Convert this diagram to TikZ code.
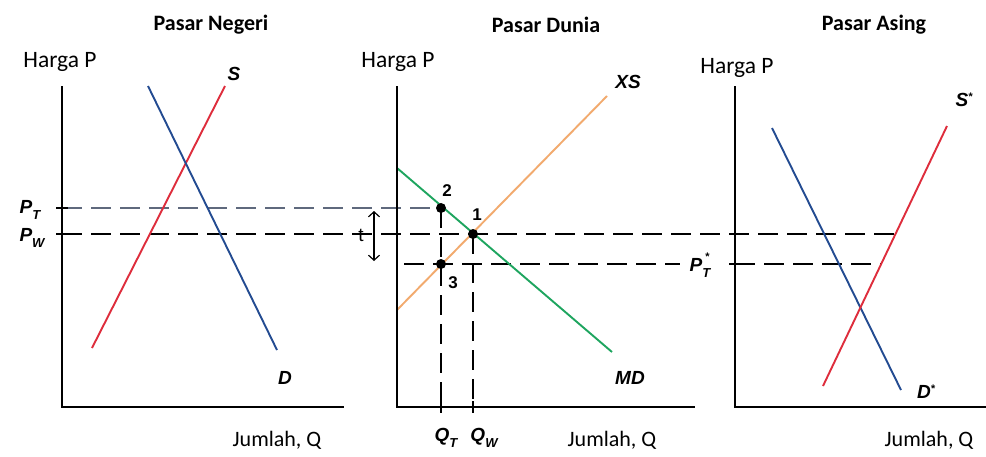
\documentclass[tikz,border=0pt]{standalone}
\usepackage{fontspec}
\setmainfont{Carlito}
\newfontfamily\lblfont{Liberation Sans}
\usetikzlibrary{arrows.meta}
\definecolor{sred}{RGB}{222,45,60}
\definecolor{dblue}{RGB}{35,75,145}
\definecolor{mdgreen}{RGB}{30,165,95}
\definecolor{xsorange}{RGB}{242,170,110}
\definecolor{ptgray}{RGB}{95,105,125}
\begin{document}
\begin{tikzpicture}[x=1pt,y=-1pt,
  axis/.style={line width=2pt,black},
  curve/.style={line width=1.9pt},
  guide/.style={line width=1.6pt,dash pattern=on 20pt off 9pt},
  title/.style={font=\bfseries\fontsize{22}{25}\selectfont},
  axlbl/.style={font=\fontsize{22}{25}\selectfont},
  clbl/.style={font=\lblfont\bfseries\itshape\fontsize{19}{21}\selectfont},
  nlbl/.style={font=\lblfont\bfseries\fontsize{17}{19}\selectfont},
  dot/.style={circle,fill=black,inner sep=0pt,minimum size=10pt}]
\fill[white] (0,0) rectangle (986,456);
\useasboundingbox (0,0) rectangle (986,456);
% titles
\node[title] (t1) at (211,25) {Pasar Negeri};
\node[title] (t2) at (546,25) {Pasar Dunia};
\node[title] (t3) at (874,25) {Pasar Asing};
% axis labels
\node[axlbl,font=\fontsize{23.5}{26}\selectfont] (h1) at (60,62) {Harga P};
\node[axlbl,font=\fontsize{23.5}{26}\selectfont] (h2) at (398,62) {Harga P};
\node[axlbl,font=\fontsize{23.5}{26}\selectfont] (h3) at (737,68) {Harga P};
\node[axlbl] (j1) at (277,440) {Jumlah, Q};
\node[axlbl] (j2) at (612,440) {Jumlah, Q};
\node[axlbl] (j3) at (929,440) {Jumlah, Q};
% axes coordinates
\coordinate (a1t) at (62,86); \coordinate (a1o) at (62,407); \coordinate (a1r) at (344,407);
\coordinate (a2t) at (397,86); \coordinate (a2o) at (397,407); \coordinate (a2r) at (695,407);
\coordinate (a3t) at (735,86); \coordinate (a3o) at (735,407); \coordinate (a3r) at (986,407);
% points
\coordinate (p2) at (441,208);
\coordinate (p1) at (473,234);
\coordinate (p3) at (441,264);
\coordinate (ptL) at (62,208);
\coordinate (pwL) at (62,234);
\coordinate (pwR) at (897,234);
\coordinate (psR) at (882,264);
\coordinate (psA) at (735,264);
\coordinate (psE) at (680,264);
\coordinate (ps0) at (404,264);
\coordinate (qt) at (441,407);
\coordinate (qw) at (473,407);
% guides
\draw[guide,ptgray,line width=2.4pt] (ptL) -- (p2);
\draw[guide] (pwL) -- (pwR);
\draw[guide] (ps0) -- (psE);
\draw[guide] (psA) -- (psR);
\draw[guide] (p2) -- (qt);
\draw[guide] (p1) -- (qw);
% ticks
\draw[line width=1.4pt] (56,208) -- (68,208);
\draw[line width=1.4pt] (56,234) -- (68,234);
\draw[line width=1.4pt] (729,264) -- (741,264);
\draw[line width=1.4pt] (441,401) -- (441,413);
\draw[line width=1.4pt] (473,401) -- (473,413);
% curves panel 1
\coordinate (s1a) at (92,348); \coordinate (s1b) at (225,86);
\coordinate (d1a) at (148,86); \coordinate (d1b) at (277,350);
\draw[curve,sred] (s1a) -- (s1b);
\draw[curve,dblue] (d1a) -- (d1b);
% panel 2
\coordinate (mda) at (397,168); \coordinate (mdb) at (612,352);
\coordinate (xsa) at (397,310); \coordinate (xsb) at (607,96);
\draw[curve,xsorange] (xsa) -- (xsb);
\draw[curve,mdgreen] (mda) -- (mdb);
% panel 3
\coordinate (d3a) at (772,128); \coordinate (d3b) at (901,390);
\coordinate (s3a) at (823,386); \coordinate (s3b) at (947,126);
\draw[curve,dblue] (d3a) -- (d3b);
\draw[curve,sred] (s3a) -- (s3b);
% axes
\draw[axis] (a1t) -- (a1o) -- (a1r);
\draw[axis] (a2t) -- (a2o) -- (a2r);
\draw[axis] (a3t) -- (a3o) -- (a3r);
% t arrow
\coordinate (ta) at (374,211); \coordinate (tb) at (374,261);
\draw[line width=1.2pt,{Straight Barb[length=5pt,width=11pt]}-{Straight Barb[length=5pt,width=11pt]}] (ta) -- (tb);
\node[font=\lblfont\fontsize{19}{21}\selectfont] (tl) at (361,235) {t};
% dots
\node[dot] (n2) at (p2) {};
\node[dot] (n1) at (p1) {};
\node[dot] (n3) at (p3) {};
\node[nlbl] (l2) at (447,191) {2};
\node[nlbl] (l1) at (477,215) {1};
\node[nlbl] (l3) at (453,283) {3};
% curve labels
\node[clbl] (ls1) at (234,74) {S};
\node[clbl] (ld1) at (285,378) {D};
\node[clbl] (lxs) at (628,82) {XS};
\node[clbl] (lmd) at (630,378) {MD};
\node[clbl] (ls3) at (964,100) {S\raisebox{0.6ex}{\fontsize{11}{11}\selectfont*}};
\node[clbl] (ld3) at (926,392) {D\raisebox{0.6ex}{\fontsize{11}{11}\selectfont*}};
\node[clbl] (lpt) at (30,210) {P\raisebox{-0.6ex}{\fontsize{13}{13}\selectfont T}};
\node[clbl] (lpw) at (32,238) {P\raisebox{-0.6ex}{\fontsize{13}{13}\selectfont W}};
\node[clbl,inner sep=1pt] (lps) at (700,268) {P\raisebox{-0.6ex}{\fontsize{13}{13}\selectfont T}};
\node[font=\lblfont\bfseries\fontsize{11}{11}\selectfont,inner sep=0pt,anchor=south] (lpss) at ([xshift=-4pt,yshift=-3pt]lps.north east) {*};
\node[clbl] (lqt) at (446,438) {Q\raisebox{-0.6ex}{\fontsize{13}{13}\selectfont T}};
\node[clbl] (lqw) at (484,438) {Q\raisebox{-0.6ex}{\fontsize{13}{13}\selectfont W}};
\end{tikzpicture}
\end{document}
